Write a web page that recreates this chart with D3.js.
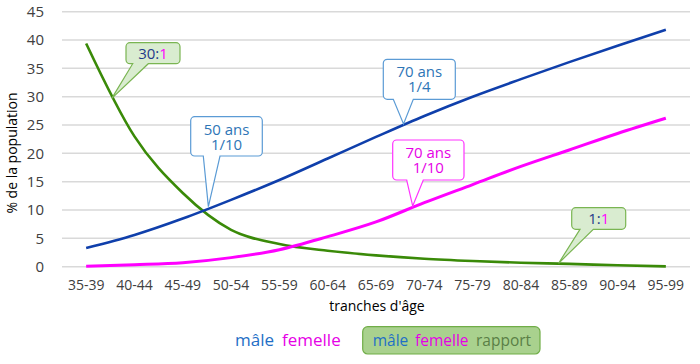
<!DOCTYPE html>
<html><head><meta charset="utf-8">
<script src="https://cdn.jsdelivr.net/npm/d3@7"></script>
<style>body{margin:0;background:#fff}svg{display:block;font-family:"Open Sans",sans-serif}</style>
</head><body><svg id="c" width="700" height="364"></svg>
<script>
const categories = ["35-39","40-44","45-49","50-54","55-59","60-64","65-69","70-74","75-79","80-84","85-89","90-94","95-99"];
const male   = [3.3, 5.6, 8.5, 11.8, 15.3, 19.1, 22.9, 26.6, 30.0, 33.1, 36.1, 39.0, 41.8];
const female = [0.1, 0.35, 0.7, 1.6, 3.0, 5.3, 7.9, 11.3, 14.5, 17.7, 20.6, 23.5, 26.2];
const ratio  = [39.4, 23.0, 13.0, 6.5, 4.0, 2.8, 2.0, 1.4, 1.0, 0.7, 0.5, 0.25, 0.05];
const yTicks = [0,5,10,15,20,25,30,35,40,45];

const svg = d3.select("#c");
const x = d3.scaleBand().domain(categories).range([62, 690]);
const xc = c => x(c) + x.bandwidth()/2;
const xi = i => x(categories[0]) + x.bandwidth()/2 + i * x.step();
const y = d3.scaleLinear().domain([0,45]).range([266.7, 11.7]);

// gridlines
svg.append("g").selectAll("line").data(yTicks).join("line")
  .attr("x1",62).attr("x2",690).attr("y1",d=>y(d)).attr("y2",d=>y(d))
  .attr("stroke","#d9d9d9").attr("stroke-width",1.5);

// y axis
const ya = svg.append("g").attr("transform","translate(44,0)")
  .call(d3.axisLeft(y).tickValues(yTicks).tickSize(0).tickPadding(0));
ya.select(".domain").remove();
ya.selectAll("text").attr("font-family","Open Sans").attr("font-size",15).attr("fill","#404040");

// x axis
const xa = svg.append("g").attr("transform","translate(0,280)")
  .call(d3.axisBottom(x).tickSize(0).tickPadding(0));
xa.select(".domain").remove();
xa.selectAll("text").attr("font-family","Open Sans").attr("font-size",14).attr("fill","#404040").attr("dy","0.71em");

// titles
svg.append("text").attr("transform","translate(17,153) rotate(-90)").attr("text-anchor","middle")
  .attr("font-size",14).attr("fill","#000").text("% de la population");
svg.append("text").attr("x",377).attr("y",311).attr("text-anchor","middle")
  .attr("font-size",14).attr("fill","#000").text("tranches d'âge");

// lines
const line = d3.line().x((d,i)=>xc(categories[i])).y(d=>y(d)).curve(d3.curveMonotoneX);
svg.append("path").attr("d",line(ratio)).attr("fill","none").attr("stroke","#3a8a08").attr("stroke-width",2.6);
svg.append("path").attr("d",line(male)).attr("fill","none").attr("stroke","#0f3fab").attr("stroke-width",2.6);
svg.append("path").attr("d",line(female)).attr("fill","none").attr("stroke","#ff00ff").attr("stroke-width",3);

// callouts
const callouts = [
  {i:0.53, v:29.7, box:[126,42.7,54,21], base:[132.7,148.3], fill:"#d9ecd0", stroke:"#7ab552",
   lines:[[["30:","#1f3a8a"],["1","#ff00ff"]]]},
  {i:2.53, v:10.6, box:[190.7,116.7,71.6,39.3], base:[203.3,220], fill:"#fff", stroke:"#5b9bd5",
   lines:[[["50 ans","#2e75b6"]],[["1/10","#2e75b6"]]]},
  {i:6.57, v:25.2, box:[383.3,59.3,72,40], base:[393.3,413.3], fill:"#fff", stroke:"#5b9bd5",
   lines:[[["70 ans","#2e75b6"]],[["1/4","#2e75b6"]]]},
  {i:6.76, v:10.7, box:[392.7,140,71.3,40], base:[406.7,423.3], fill:"#fff", stroke:"#ff33ff",
   lines:[[["70 ans","#e600e6"]],[["1/10","#e600e6"]]]},
  {i:9.78, v:0.6, box:[571.7,207.7,54,21.6], base:[580,593.3], fill:"#d9ecd0", stroke:"#7ab552",
   lines:[[["1:","#1f3a8a"],["1","#ff00ff"]]]}
];
callouts.forEach(c=>{
  const [bx,by,bw,bh] = c.box, r=4;
  const tx = xi(c.i), ty = y(c.v);
  const [b0,b1] = c.base;
  const p = d3.path();
  p.moveTo(bx+r,by); p.lineTo(bx+bw-r,by); p.arcTo(bx+bw,by,bx+bw,by+r,r);
  p.lineTo(bx+bw,by+bh-r); p.arcTo(bx+bw,by+bh,bx+bw-r,by+bh,r);
  p.lineTo(b1,by+bh); p.lineTo(tx,ty); p.lineTo(b0,by+bh);
  p.lineTo(bx+r,by+bh); p.arcTo(bx,by+bh,bx,by+bh-r,r);
  p.lineTo(bx,by+r); p.arcTo(bx,by,bx+r,by,r); p.closePath();
  svg.append("path").attr("d",p.toString()).attr("fill",c.fill).attr("stroke",c.stroke).attr("stroke-width",1.2);
  const n = c.lines.length;
  const t = svg.append("text").attr("text-anchor","middle").attr("font-size",15)
    .attr("x",bx+bw/2).attr("y", n===1 ? by+bh/2+5.5 : by+18);
  c.lines.forEach((ln,k)=>{
    const row = t.append("tspan").attr("x",bx+bw/2).attr("dy", k===0?0:15);
    ln.forEach(([s,col])=>row.append("tspan").attr("fill",col).text(s));
  });
});

// legends
const lg = svg.append("g");
lg.append("text").attr("x",235).attr("y",346).attr("font-size",17).attr("fill","#1f6fc6").text("mâle");
lg.append("text").attr("x",282).attr("y",346).attr("font-size",17).attr("fill","#e600e6").text("femelle");
lg.append("rect").attr("x",362.7).attr("y",326.7).attr("width",177.3).attr("height",27.3).attr("rx",5)
  .attr("fill","#a9d18e").attr("stroke","#70ad47").attr("stroke-width",1.2);
lg.append("text").attr("x",372.7).attr("y",346).attr("font-size",15.5).attr("fill","#1f6fc6").text("mâle");
lg.append("text").attr("x",415).attr("y",346).attr("font-size",15.5).attr("fill","#e600e6").text("femelle");
lg.append("text").attr("x",476).attr("y",346).attr("font-size",15.5).attr("fill","#5a7f46").text("rapport");
</script></body></html>
